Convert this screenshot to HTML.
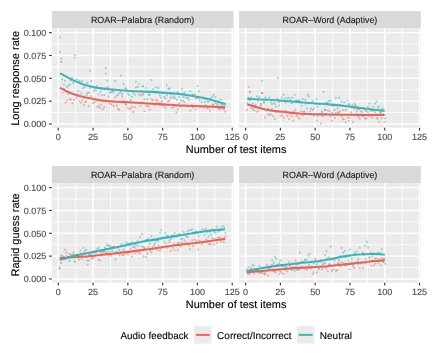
<!DOCTYPE html>
<html><head><meta charset="utf-8"><style>html,body{margin:0;padding:0;background:#fff;width:432px;height:360px;overflow:hidden}svg{display:block;will-change:transform;text-rendering:geometricPrecision;font-family:"Liberation Sans",sans-serif}</style></head>
<body><svg width="432" height="360" viewBox="0 0 432 360" font-family='"Liberation Sans", sans-serif'><defs><clipPath id="c00"><rect x="51.8" y="28.0" width="181.7" height="99.8"/></clipPath><clipPath id="c01"><rect x="239.1" y="28.0" width="181.70000000000002" height="99.8"/></clipPath><clipPath id="c10"><rect x="51.8" y="183.0" width="181.7" height="99.8"/></clipPath><clipPath id="c11"><rect x="239.1" y="183.0" width="181.70000000000002" height="99.8"/></clipPath></defs><rect width="432" height="360" fill="#FFFFFF"/><rect x="51.8" y="11.0" width="181.7" height="17.0" fill="#D9D9D9"/>
<rect x="51.8" y="28.0" width="181.7" height="99.8" fill="#EBEBEB"/>
<g clip-path="url(#c00)">
<line x1="75.69" x2="75.69" y1="28.0" y2="127.8" stroke="#FFFFFF" stroke-width="0.8"/>
<line x1="110.47" x2="110.47" y1="28.0" y2="127.8" stroke="#FFFFFF" stroke-width="0.8"/>
<line x1="145.25" x2="145.25" y1="28.0" y2="127.8" stroke="#FFFFFF" stroke-width="0.8"/>
<line x1="180.03" x2="180.03" y1="28.0" y2="127.8" stroke="#FFFFFF" stroke-width="0.8"/>
<line x1="214.81" x2="214.81" y1="28.0" y2="127.8" stroke="#FFFFFF" stroke-width="0.8"/>
<line x1="51.8" x2="233.5" y1="112.54" y2="112.54" stroke="#FFFFFF" stroke-width="0.8"/>
<line x1="51.8" x2="233.5" y1="89.71" y2="89.71" stroke="#FFFFFF" stroke-width="0.8"/>
<line x1="51.8" x2="233.5" y1="66.89" y2="66.89" stroke="#FFFFFF" stroke-width="0.8"/>
<line x1="51.8" x2="233.5" y1="44.06" y2="44.06" stroke="#FFFFFF" stroke-width="0.8"/>
<line x1="58.30" x2="58.30" y1="28.0" y2="127.8" stroke="#FFFFFF" stroke-width="1.42"/>
<line x1="93.08" x2="93.08" y1="28.0" y2="127.8" stroke="#FFFFFF" stroke-width="1.42"/>
<line x1="127.86" x2="127.86" y1="28.0" y2="127.8" stroke="#FFFFFF" stroke-width="1.42"/>
<line x1="162.64" x2="162.64" y1="28.0" y2="127.8" stroke="#FFFFFF" stroke-width="1.42"/>
<line x1="197.42" x2="197.42" y1="28.0" y2="127.8" stroke="#FFFFFF" stroke-width="1.42"/>
<line x1="232.20" x2="232.20" y1="28.0" y2="127.8" stroke="#FFFFFF" stroke-width="1.42"/>
<line x1="51.8" x2="233.5" y1="123.95" y2="123.95" stroke="#FFFFFF" stroke-width="1.42"/>
<line x1="51.8" x2="233.5" y1="101.12" y2="101.12" stroke="#FFFFFF" stroke-width="1.42"/>
<line x1="51.8" x2="233.5" y1="78.30" y2="78.30" stroke="#FFFFFF" stroke-width="1.42"/>
<line x1="51.8" x2="233.5" y1="55.48" y2="55.48" stroke="#FFFFFF" stroke-width="1.42"/>
<line x1="51.8" x2="233.5" y1="32.65" y2="32.65" stroke="#FFFFFF" stroke-width="1.42"/>
<path d="M59.90,87.80 C60.82,88.28 63.32,89.70 65.40,90.70 C67.48,91.70 70.08,92.93 72.40,93.80 C74.72,94.67 77.20,95.30 79.30,95.90 C81.40,96.50 81.73,96.70 85.00,97.40 C88.27,98.10 94.27,99.42 98.90,100.10 C103.53,100.78 108.17,101.17 112.80,101.50 C117.43,101.83 121.33,101.82 126.70,102.10 C132.07,102.38 138.48,102.78 145.00,103.20 C151.52,103.62 158.85,104.17 165.80,104.60 C172.75,105.03 180.33,105.52 186.70,105.80 C193.07,106.08 197.58,106.03 204.00,106.30 C210.42,106.57 221.67,107.22 225.20,107.40" fill="none" stroke="#E0675F" stroke-width="2.1" stroke-linecap="butt" stroke-linejoin="round"/>
<path d="M59.90,73.20 C60.82,73.68 63.32,74.98 65.40,76.10 C67.48,77.22 70.08,78.80 72.40,79.90 C74.72,81.00 77.20,81.85 79.30,82.70 C81.40,83.55 81.73,84.10 85.00,85.00 C88.27,85.90 94.27,87.33 98.90,88.10 C103.53,88.87 108.17,89.15 112.80,89.60 C117.43,90.05 121.33,90.47 126.70,90.80 C132.07,91.13 138.48,91.25 145.00,91.60 C151.52,91.95 158.85,92.33 165.80,92.90 C172.75,93.47 180.33,94.13 186.70,95.00 C193.07,95.87 197.57,96.60 204.00,98.10 C210.43,99.60 221.75,103.02 225.30,104.00" fill="none" stroke="#45B4B8" stroke-width="2.1" stroke-linecap="butt" stroke-linejoin="round"/>
<g fill="#EE6A60" fill-opacity="0.5">
<circle cx="59.8" cy="52.3" r="1.05"/>
<circle cx="61.2" cy="61.9" r="1.05"/>
<circle cx="75.0" cy="57.8" r="1.05"/>
<circle cx="105.7" cy="73.6" r="1.05"/>
<circle cx="62.6" cy="92.8" r="1.05"/>
<circle cx="68.2" cy="93.8" r="1.05"/>
<circle cx="65.4" cy="102.7" r="1.05"/>
<circle cx="66.8" cy="100.9" r="1.05"/>
<circle cx="69.7" cy="99.2" r="1.05"/>
<circle cx="71.1" cy="99.9" r="1.05"/>
<circle cx="72.5" cy="103.4" r="1.05"/>
<circle cx="73.9" cy="99.9" r="1.05"/>
<circle cx="76.7" cy="97.8" r="1.05"/>
<circle cx="79.5" cy="101.3" r="1.05"/>
<circle cx="80.9" cy="102.7" r="1.05"/>
<circle cx="82.4" cy="100.6" r="1.05"/>
<circle cx="83.8" cy="104.8" r="1.05"/>
<circle cx="85.2" cy="102.0" r="1.05"/>
<circle cx="85.9" cy="101.3" r="1.05"/>
<circle cx="88.7" cy="106.2" r="1.05"/>
<circle cx="87.3" cy="93.2" r="1.05"/>
<circle cx="90.1" cy="87.9" r="1.05"/>
<circle cx="91.5" cy="96.4" r="1.05"/>
<circle cx="93.0" cy="103.1" r="1.05"/>
<circle cx="94.4" cy="102.3" r="1.05"/>
<circle cx="97.2" cy="107.0" r="1.05"/>
<circle cx="98.6" cy="106.0" r="1.05"/>
<circle cx="100.7" cy="104.8" r="1.05"/>
<circle cx="100.0" cy="107.9" r="1.05"/>
<circle cx="102.8" cy="109.4" r="1.05"/>
<circle cx="104.3" cy="107.0" r="1.05"/>
<circle cx="106.4" cy="87.9" r="1.05"/>
<circle cx="108.5" cy="96.6" r="1.05"/>
<circle cx="111.3" cy="104.5" r="1.05"/>
<circle cx="121.0" cy="91.8" r="1.05"/>
<circle cx="115.2" cy="97.4" r="1.05"/>
<circle cx="122.2" cy="96.4" r="1.05"/>
<circle cx="135.9" cy="87.4" r="1.05"/>
<circle cx="137.6" cy="91.5" r="1.05"/>
<circle cx="139.0" cy="94.8" r="1.05"/>
<circle cx="142.5" cy="94.3" r="1.05"/>
<circle cx="123.8" cy="100.9" r="1.05"/>
<circle cx="143.4" cy="94.4" r="1.05"/>
<circle cx="151.5" cy="99.4" r="1.05"/>
<circle cx="152.9" cy="100.2" r="1.05"/>
<circle cx="157.0" cy="100.4" r="1.05"/>
<circle cx="161.3" cy="102.0" r="1.05"/>
<circle cx="166.7" cy="95.6" r="1.05"/>
<circle cx="170.6" cy="97.2" r="1.05"/>
<circle cx="168.1" cy="101.3" r="1.05"/>
<circle cx="169.5" cy="100.6" r="1.05"/>
<circle cx="113.7" cy="105.9" r="1.05"/>
<circle cx="116.8" cy="105.6" r="1.05"/>
<circle cx="117.9" cy="108.9" r="1.05"/>
<circle cx="119.4" cy="109.9" r="1.05"/>
<circle cx="127.7" cy="107.7" r="1.05"/>
<circle cx="129.3" cy="109.1" r="1.05"/>
<circle cx="130.7" cy="108.2" r="1.05"/>
<circle cx="132.1" cy="106.5" r="1.05"/>
<circle cx="134.9" cy="107.2" r="1.05"/>
<circle cx="133.3" cy="111.9" r="1.05"/>
<circle cx="144.4" cy="111.2" r="1.05"/>
<circle cx="146.2" cy="106.2" r="1.05"/>
<circle cx="148.7" cy="106.6" r="1.05"/>
<circle cx="150.0" cy="109.8" r="1.05"/>
<circle cx="154.5" cy="105.2" r="1.05"/>
<circle cx="159.9" cy="105.2" r="1.05"/>
<circle cx="163.4" cy="106.2" r="1.05"/>
<circle cx="165.6" cy="107.7" r="1.05"/>
<circle cx="172.1" cy="108.0" r="1.05"/>
<circle cx="182.7" cy="100.9" r="1.05"/>
<circle cx="184.4" cy="102.0" r="1.05"/>
<circle cx="197.6" cy="98.1" r="1.05"/>
<circle cx="198.6" cy="97.4" r="1.05"/>
<circle cx="176.4" cy="112.4" r="1.05"/>
<circle cx="177.8" cy="109.2" r="1.05"/>
<circle cx="180.2" cy="106.8" r="1.05"/>
<circle cx="190.3" cy="110.6" r="1.05"/>
<circle cx="188.6" cy="106.5" r="1.05"/>
<circle cx="192.8" cy="107.5" r="1.05"/>
<circle cx="200.0" cy="107.2" r="1.05"/>
<circle cx="175.4" cy="105.8" r="1.05"/>
<circle cx="205.7" cy="105.4" r="1.05"/>
<circle cx="208.5" cy="107.8" r="1.05"/>
<circle cx="209.9" cy="110.6" r="1.05"/>
<circle cx="215.5" cy="103.0" r="1.05"/>
<circle cx="213.7" cy="105.4" r="1.05"/>
<circle cx="220.0" cy="108.9" r="1.05"/>
<circle cx="222.4" cy="108.5" r="1.05"/>
<circle cx="224.1" cy="109.2" r="1.05"/>
<circle cx="225.2" cy="111.7" r="1.05"/>
<circle cx="204.7" cy="107.2" r="1.05"/>
<circle cx="63.9" cy="88.8" r="1.05"/>
<circle cx="77.8" cy="95.4" r="1.05"/>
<circle cx="95.9" cy="101.0" r="1.05"/>
<circle cx="101.4" cy="100.5" r="1.05"/>
<circle cx="109.8" cy="103.6" r="1.05"/>
<circle cx="112.6" cy="101.4" r="1.05"/>
<circle cx="125.1" cy="103.9" r="1.05"/>
<circle cx="126.5" cy="104.8" r="1.05"/>
<circle cx="140.4" cy="105.8" r="1.05"/>
<circle cx="141.8" cy="101.8" r="1.05"/>
<circle cx="147.3" cy="104.9" r="1.05"/>
<circle cx="155.7" cy="100.5" r="1.05"/>
<circle cx="158.5" cy="102.2" r="1.05"/>
<circle cx="162.6" cy="100.8" r="1.05"/>
<circle cx="173.8" cy="107.0" r="1.05"/>
<circle cx="179.3" cy="103.2" r="1.05"/>
<circle cx="183.5" cy="105.6" r="1.05"/>
<circle cx="186.3" cy="105.4" r="1.05"/>
<circle cx="187.7" cy="105.8" r="1.05"/>
<circle cx="191.9" cy="104.9" r="1.05"/>
<circle cx="194.6" cy="106.5" r="1.05"/>
<circle cx="196.0" cy="109.3" r="1.05"/>
<circle cx="201.6" cy="106.3" r="1.05"/>
<circle cx="203.0" cy="107.2" r="1.05"/>
<circle cx="207.2" cy="108.3" r="1.05"/>
<circle cx="211.3" cy="106.3" r="1.05"/>
<circle cx="212.7" cy="104.5" r="1.05"/>
<circle cx="216.9" cy="106.0" r="1.05"/>
<circle cx="218.3" cy="109.0" r="1.05"/>
<circle cx="221.1" cy="104.2" r="1.05"/>
</g>
<g fill="#1AAEB3" fill-opacity="0.45">
<circle cx="59.9" cy="37.2" r="1.05"/>
<circle cx="61.2" cy="58.8" r="1.05"/>
<circle cx="75.0" cy="55.1" r="1.05"/>
<circle cx="90.1" cy="70.7" r="1.05"/>
<circle cx="105.7" cy="67.8" r="1.05"/>
<circle cx="62.2" cy="79.4" r="1.05"/>
<circle cx="65.0" cy="80.8" r="1.05"/>
<circle cx="64.0" cy="84.8" r="1.05"/>
<circle cx="66.8" cy="86.8" r="1.05"/>
<circle cx="68.2" cy="85.8" r="1.05"/>
<circle cx="69.7" cy="84.4" r="1.05"/>
<circle cx="73.2" cy="82.9" r="1.05"/>
<circle cx="78.1" cy="91.0" r="1.05"/>
<circle cx="80.9" cy="93.5" r="1.05"/>
<circle cx="83.1" cy="88.2" r="1.05"/>
<circle cx="86.6" cy="95.0" r="1.05"/>
<circle cx="89.0" cy="92.8" r="1.05"/>
<circle cx="87.3" cy="82.9" r="1.05"/>
<circle cx="91.5" cy="81.1" r="1.05"/>
<circle cx="93.7" cy="90.7" r="1.05"/>
<circle cx="98.6" cy="94.2" r="1.05"/>
<circle cx="100.7" cy="91.8" r="1.05"/>
<circle cx="102.1" cy="95.2" r="1.05"/>
<circle cx="104.3" cy="95.0" r="1.05"/>
<circle cx="107.1" cy="80.5" r="1.05"/>
<circle cx="109.9" cy="92.8" r="1.05"/>
<circle cx="111.3" cy="92.1" r="1.05"/>
<circle cx="76.7" cy="79.1" r="1.05"/>
<circle cx="120.8" cy="75.7" r="1.05"/>
<circle cx="115.2" cy="80.9" r="1.05"/>
<circle cx="123.6" cy="84.1" r="1.05"/>
<circle cx="125.5" cy="88.4" r="1.05"/>
<circle cx="113.7" cy="92.2" r="1.05"/>
<circle cx="116.8" cy="95.7" r="1.05"/>
<circle cx="118.2" cy="94.7" r="1.05"/>
<circle cx="122.0" cy="94.1" r="1.05"/>
<circle cx="129.0" cy="95.2" r="1.05"/>
<circle cx="131.8" cy="96.6" r="1.05"/>
<circle cx="134.7" cy="94.7" r="1.05"/>
<circle cx="130.7" cy="100.1" r="1.05"/>
<circle cx="135.9" cy="81.8" r="1.05"/>
<circle cx="138.8" cy="84.1" r="1.05"/>
<circle cx="137.6" cy="87.0" r="1.05"/>
<circle cx="141.1" cy="95.4" r="1.05"/>
<circle cx="142.5" cy="86.3" r="1.05"/>
<circle cx="151.5" cy="80.0" r="1.05"/>
<circle cx="143.4" cy="86.2" r="1.05"/>
<circle cx="155.8" cy="87.2" r="1.05"/>
<circle cx="158.4" cy="87.9" r="1.05"/>
<circle cx="153.0" cy="89.3" r="1.05"/>
<circle cx="166.7" cy="85.2" r="1.05"/>
<circle cx="168.5" cy="88.9" r="1.05"/>
<circle cx="169.7" cy="88.4" r="1.05"/>
<circle cx="149.5" cy="94.9" r="1.05"/>
<circle cx="144.4" cy="99.4" r="1.05"/>
<circle cx="147.4" cy="99.4" r="1.05"/>
<circle cx="159.9" cy="95.6" r="1.05"/>
<circle cx="161.3" cy="97.7" r="1.05"/>
<circle cx="163.8" cy="96.8" r="1.05"/>
<circle cx="165.2" cy="98.1" r="1.05"/>
<circle cx="172.4" cy="97.7" r="1.05"/>
<circle cx="182.0" cy="88.8" r="1.05"/>
<circle cx="190.3" cy="91.1" r="1.05"/>
<circle cx="197.5" cy="86.0" r="1.05"/>
<circle cx="198.9" cy="91.2" r="1.05"/>
<circle cx="184.4" cy="92.9" r="1.05"/>
<circle cx="194.8" cy="94.5" r="1.05"/>
<circle cx="175.0" cy="98.0" r="1.05"/>
<circle cx="176.8" cy="99.9" r="1.05"/>
<circle cx="179.2" cy="97.1" r="1.05"/>
<circle cx="180.6" cy="100.4" r="1.05"/>
<circle cx="188.9" cy="99.9" r="1.05"/>
<circle cx="199.7" cy="100.6" r="1.05"/>
<circle cx="201.8" cy="102.0" r="1.05"/>
<circle cx="214.1" cy="94.5" r="1.05"/>
<circle cx="211.3" cy="97.9" r="1.05"/>
<circle cx="215.5" cy="97.1" r="1.05"/>
<circle cx="204.7" cy="101.9" r="1.05"/>
<circle cx="208.5" cy="101.9" r="1.05"/>
<circle cx="217.5" cy="104.4" r="1.05"/>
<circle cx="220.0" cy="106.7" r="1.05"/>
<circle cx="223.8" cy="106.9" r="1.05"/>
<circle cx="70.8" cy="80.2" r="1.05"/>
<circle cx="72.2" cy="78.1" r="1.05"/>
<circle cx="79.2" cy="80.8" r="1.05"/>
<circle cx="81.9" cy="81.1" r="1.05"/>
<circle cx="84.7" cy="87.2" r="1.05"/>
<circle cx="94.5" cy="88.5" r="1.05"/>
<circle cx="95.9" cy="90.1" r="1.05"/>
<circle cx="97.2" cy="86.0" r="1.05"/>
<circle cx="101.4" cy="88.4" r="1.05"/>
<circle cx="108.4" cy="87.1" r="1.05"/>
<circle cx="112.6" cy="91.0" r="1.05"/>
<circle cx="119.5" cy="93.0" r="1.05"/>
<circle cx="126.5" cy="89.2" r="1.05"/>
<circle cx="127.9" cy="93.7" r="1.05"/>
<circle cx="133.4" cy="92.9" r="1.05"/>
<circle cx="140.4" cy="91.1" r="1.05"/>
<circle cx="145.9" cy="88.1" r="1.05"/>
<circle cx="148.7" cy="94.4" r="1.05"/>
<circle cx="154.3" cy="92.0" r="1.05"/>
<circle cx="157.1" cy="91.3" r="1.05"/>
<circle cx="162.6" cy="93.4" r="1.05"/>
<circle cx="171.0" cy="94.2" r="1.05"/>
<circle cx="173.8" cy="96.4" r="1.05"/>
<circle cx="177.9" cy="92.3" r="1.05"/>
<circle cx="183.5" cy="96.7" r="1.05"/>
<circle cx="186.3" cy="97.6" r="1.05"/>
<circle cx="187.7" cy="97.8" r="1.05"/>
<circle cx="191.9" cy="95.6" r="1.05"/>
<circle cx="193.2" cy="94.8" r="1.05"/>
<circle cx="196.0" cy="98.5" r="1.05"/>
<circle cx="203.0" cy="98.1" r="1.05"/>
<circle cx="205.8" cy="98.8" r="1.05"/>
<circle cx="207.2" cy="101.5" r="1.05"/>
<circle cx="209.9" cy="99.3" r="1.05"/>
<circle cx="212.7" cy="96.4" r="1.05"/>
<circle cx="218.3" cy="101.4" r="1.05"/>
<circle cx="221.1" cy="99.5" r="1.05"/>
<circle cx="222.5" cy="104.7" r="1.05"/>
<circle cx="225.2" cy="104.6" r="1.05"/>
</g>
</g>
<text x="142.65" y="22.75" font-size="9.05" fill="#1A1A1A" text-anchor="middle" stroke="#1A1A1A" stroke-width="0.12" textLength="103.4" lengthAdjust="spacingAndGlyphs">ROAR–Palabra (Random)</text>
<line x1="58.30" x2="58.30" y1="127.8" y2="130.55" stroke="#333333" stroke-width="1.1"/>
<text x="58.30" y="140.0" font-size="9.0" fill="#4D4D4D" text-anchor="middle" stroke="#4D4D4D" stroke-width="0.12">0</text>
<line x1="93.08" x2="93.08" y1="127.8" y2="130.55" stroke="#333333" stroke-width="1.1"/>
<text x="93.08" y="140.0" font-size="9.0" fill="#4D4D4D" text-anchor="middle" stroke="#4D4D4D" stroke-width="0.12">25</text>
<line x1="127.86" x2="127.86" y1="127.8" y2="130.55" stroke="#333333" stroke-width="1.1"/>
<text x="127.86" y="140.0" font-size="9.0" fill="#4D4D4D" text-anchor="middle" stroke="#4D4D4D" stroke-width="0.12">50</text>
<line x1="162.64" x2="162.64" y1="127.8" y2="130.55" stroke="#333333" stroke-width="1.1"/>
<text x="162.64" y="140.0" font-size="9.0" fill="#4D4D4D" text-anchor="middle" stroke="#4D4D4D" stroke-width="0.12">75</text>
<line x1="197.42" x2="197.42" y1="127.8" y2="130.55" stroke="#333333" stroke-width="1.1"/>
<text x="197.42" y="140.0" font-size="9.0" fill="#4D4D4D" text-anchor="middle" stroke="#4D4D4D" stroke-width="0.12">100</text>
<line x1="232.20" x2="232.20" y1="127.8" y2="130.55" stroke="#333333" stroke-width="1.1"/>
<text x="232.20" y="140.0" font-size="9.0" fill="#4D4D4D" text-anchor="middle" stroke="#4D4D4D" stroke-width="0.12">125</text>
<rect x="239.1" y="11.0" width="181.70000000000002" height="17.0" fill="#D9D9D9"/>
<rect x="239.1" y="28.0" width="181.70000000000002" height="99.8" fill="#EBEBEB"/>
<g clip-path="url(#c01)">
<line x1="262.99" x2="262.99" y1="28.0" y2="127.8" stroke="#FFFFFF" stroke-width="0.8"/>
<line x1="297.77" x2="297.77" y1="28.0" y2="127.8" stroke="#FFFFFF" stroke-width="0.8"/>
<line x1="332.55" x2="332.55" y1="28.0" y2="127.8" stroke="#FFFFFF" stroke-width="0.8"/>
<line x1="367.33" x2="367.33" y1="28.0" y2="127.8" stroke="#FFFFFF" stroke-width="0.8"/>
<line x1="402.11" x2="402.11" y1="28.0" y2="127.8" stroke="#FFFFFF" stroke-width="0.8"/>
<line x1="239.1" x2="420.8" y1="112.54" y2="112.54" stroke="#FFFFFF" stroke-width="0.8"/>
<line x1="239.1" x2="420.8" y1="89.71" y2="89.71" stroke="#FFFFFF" stroke-width="0.8"/>
<line x1="239.1" x2="420.8" y1="66.89" y2="66.89" stroke="#FFFFFF" stroke-width="0.8"/>
<line x1="239.1" x2="420.8" y1="44.06" y2="44.06" stroke="#FFFFFF" stroke-width="0.8"/>
<line x1="245.60" x2="245.60" y1="28.0" y2="127.8" stroke="#FFFFFF" stroke-width="1.42"/>
<line x1="280.38" x2="280.38" y1="28.0" y2="127.8" stroke="#FFFFFF" stroke-width="1.42"/>
<line x1="315.16" x2="315.16" y1="28.0" y2="127.8" stroke="#FFFFFF" stroke-width="1.42"/>
<line x1="349.94" x2="349.94" y1="28.0" y2="127.8" stroke="#FFFFFF" stroke-width="1.42"/>
<line x1="384.72" x2="384.72" y1="28.0" y2="127.8" stroke="#FFFFFF" stroke-width="1.42"/>
<line x1="419.50" x2="419.50" y1="28.0" y2="127.8" stroke="#FFFFFF" stroke-width="1.42"/>
<line x1="239.1" x2="420.8" y1="123.95" y2="123.95" stroke="#FFFFFF" stroke-width="1.42"/>
<line x1="239.1" x2="420.8" y1="101.12" y2="101.12" stroke="#FFFFFF" stroke-width="1.42"/>
<line x1="239.1" x2="420.8" y1="78.30" y2="78.30" stroke="#FFFFFF" stroke-width="1.42"/>
<line x1="239.1" x2="420.8" y1="55.48" y2="55.48" stroke="#FFFFFF" stroke-width="1.42"/>
<line x1="239.1" x2="420.8" y1="32.65" y2="32.65" stroke="#FFFFFF" stroke-width="1.42"/>
<path d="M247.30,104.20 C248.82,104.72 252.78,106.28 256.40,107.30 C260.02,108.32 264.58,109.55 269.00,110.30 C273.42,111.05 277.90,111.27 282.90,111.80 C287.90,112.33 294.00,113.10 299.00,113.50 C304.00,113.90 307.90,114.03 312.90,114.20 C317.90,114.37 321.32,114.38 329.00,114.50 C336.68,114.62 349.72,114.83 359.00,114.90 C368.28,114.97 380.42,114.90 384.70,114.90" fill="none" stroke="#E0675F" stroke-width="2.1" stroke-linecap="butt" stroke-linejoin="round"/>
<path d="M247.30,98.90 C248.82,98.97 252.78,99.15 256.40,99.30 C260.02,99.45 264.58,99.57 269.00,99.80 C273.42,100.03 277.90,100.32 282.90,100.70 C287.90,101.08 294.00,101.67 299.00,102.10 C304.00,102.53 307.90,102.92 312.90,103.30 C317.90,103.68 324.00,104.00 329.00,104.40 C334.00,104.80 337.90,105.13 342.90,105.70 C347.90,106.27 354.00,107.17 359.00,107.80 C364.00,108.43 368.62,108.98 372.90,109.50 C377.18,110.02 382.73,110.67 384.70,110.90" fill="none" stroke="#45B4B8" stroke-width="2.1" stroke-linecap="butt" stroke-linejoin="round"/>
<g fill="#EE6A60" fill-opacity="0.5">
<circle cx="248.6" cy="87.0" r="1.05"/>
<circle cx="250.0" cy="91.7" r="1.05"/>
<circle cx="262.3" cy="93.1" r="1.05"/>
<circle cx="249.8" cy="92.3" r="1.05"/>
<circle cx="262.3" cy="93.0" r="1.05"/>
<circle cx="264.0" cy="102.4" r="1.05"/>
<circle cx="247.0" cy="109.9" r="1.05"/>
<circle cx="252.9" cy="108.5" r="1.05"/>
<circle cx="256.4" cy="111.8" r="1.05"/>
<circle cx="259.8" cy="106.9" r="1.05"/>
<circle cx="267.8" cy="114.6" r="1.05"/>
<circle cx="265.0" cy="117.6" r="1.05"/>
<circle cx="277.3" cy="98.9" r="1.05"/>
<circle cx="279.1" cy="105.5" r="1.05"/>
<circle cx="285.7" cy="111.1" r="1.05"/>
<circle cx="295.4" cy="110.1" r="1.05"/>
<circle cx="294.0" cy="111.8" r="1.05"/>
<circle cx="271.1" cy="114.5" r="1.05"/>
<circle cx="273.2" cy="116.2" r="1.05"/>
<circle cx="274.9" cy="119.0" r="1.05"/>
<circle cx="280.5" cy="116.2" r="1.05"/>
<circle cx="283.9" cy="117.6" r="1.05"/>
<circle cx="287.4" cy="115.9" r="1.05"/>
<circle cx="289.1" cy="119.0" r="1.05"/>
<circle cx="291.6" cy="116.2" r="1.05"/>
<circle cx="293.0" cy="120.8" r="1.05"/>
<circle cx="296.8" cy="115.9" r="1.05"/>
<circle cx="298.2" cy="117.6" r="1.05"/>
<circle cx="308.0" cy="94.6" r="1.05"/>
<circle cx="305.6" cy="104.0" r="1.05"/>
<circle cx="301.4" cy="111.3" r="1.05"/>
<circle cx="310.1" cy="111.3" r="1.05"/>
<circle cx="312.5" cy="109.9" r="1.05"/>
<circle cx="325.0" cy="109.9" r="1.05"/>
<circle cx="327.8" cy="110.2" r="1.05"/>
<circle cx="299.7" cy="118.8" r="1.05"/>
<circle cx="316.7" cy="120.8" r="1.05"/>
<circle cx="320.9" cy="123.6" r="1.05"/>
<circle cx="317.8" cy="116.3" r="1.05"/>
<circle cx="323.0" cy="116.3" r="1.05"/>
<circle cx="337.3" cy="108.5" r="1.05"/>
<circle cx="355.4" cy="105.4" r="1.05"/>
<circle cx="354.0" cy="108.5" r="1.05"/>
<circle cx="340.1" cy="111.6" r="1.05"/>
<circle cx="351.2" cy="112.3" r="1.05"/>
<circle cx="356.8" cy="111.6" r="1.05"/>
<circle cx="329.4" cy="111.3" r="1.05"/>
<circle cx="334.9" cy="117.7" r="1.05"/>
<circle cx="331.8" cy="120.8" r="1.05"/>
<circle cx="341.9" cy="116.7" r="1.05"/>
<circle cx="343.9" cy="119.1" r="1.05"/>
<circle cx="345.7" cy="122.2" r="1.05"/>
<circle cx="347.4" cy="117.7" r="1.05"/>
<circle cx="348.8" cy="120.8" r="1.05"/>
<circle cx="349.8" cy="117.7" r="1.05"/>
<circle cx="353.0" cy="122.2" r="1.05"/>
<circle cx="373.6" cy="106.8" r="1.05"/>
<circle cx="383.6" cy="108.5" r="1.05"/>
<circle cx="361.1" cy="111.3" r="1.05"/>
<circle cx="368.0" cy="112.3" r="1.05"/>
<circle cx="375.0" cy="112.3" r="1.05"/>
<circle cx="380.5" cy="112.7" r="1.05"/>
<circle cx="359.7" cy="118.8" r="1.05"/>
<circle cx="362.5" cy="116.3" r="1.05"/>
<circle cx="366.6" cy="118.4" r="1.05"/>
<circle cx="376.7" cy="118.4" r="1.05"/>
<circle cx="377.8" cy="118.4" r="1.05"/>
<circle cx="381.6" cy="118.4" r="1.05"/>
<circle cx="379.1" cy="121.9" r="1.05"/>
<circle cx="384.7" cy="121.9" r="1.05"/>
<circle cx="251.2" cy="107.9" r="1.05"/>
<circle cx="253.9" cy="105.9" r="1.05"/>
<circle cx="255.3" cy="106.1" r="1.05"/>
<circle cx="258.1" cy="111.2" r="1.05"/>
<circle cx="260.9" cy="105.2" r="1.05"/>
<circle cx="266.5" cy="110.5" r="1.05"/>
<circle cx="269.2" cy="114.7" r="1.05"/>
<circle cx="272.0" cy="109.0" r="1.05"/>
<circle cx="276.2" cy="112.3" r="1.05"/>
<circle cx="281.8" cy="115.1" r="1.05"/>
<circle cx="283.2" cy="111.6" r="1.05"/>
<circle cx="290.1" cy="113.6" r="1.05"/>
<circle cx="302.6" cy="115.3" r="1.05"/>
<circle cx="304.0" cy="112.1" r="1.05"/>
<circle cx="306.8" cy="113.7" r="1.05"/>
<circle cx="311.0" cy="114.6" r="1.05"/>
<circle cx="313.8" cy="115.7" r="1.05"/>
<circle cx="315.2" cy="114.2" r="1.05"/>
<circle cx="319.3" cy="114.0" r="1.05"/>
<circle cx="322.1" cy="112.5" r="1.05"/>
<circle cx="326.3" cy="113.8" r="1.05"/>
<circle cx="330.5" cy="116.1" r="1.05"/>
<circle cx="333.2" cy="114.7" r="1.05"/>
<circle cx="336.0" cy="113.1" r="1.05"/>
<circle cx="338.8" cy="113.1" r="1.05"/>
<circle cx="343.0" cy="119.5" r="1.05"/>
<circle cx="358.3" cy="116.9" r="1.05"/>
<circle cx="363.9" cy="116.0" r="1.05"/>
<circle cx="365.2" cy="110.2" r="1.05"/>
<circle cx="369.4" cy="116.0" r="1.05"/>
<circle cx="370.8" cy="115.8" r="1.05"/>
<circle cx="372.2" cy="117.9" r="1.05"/>
</g>
<g fill="#1AAEB3" fill-opacity="0.45">
<circle cx="262.3" cy="80.8" r="1.05"/>
<circle cx="277.8" cy="78.0" r="1.05"/>
<circle cx="257.1" cy="96.2" r="1.05"/>
<circle cx="259.1" cy="97.2" r="1.05"/>
<circle cx="251.2" cy="97.6" r="1.05"/>
<circle cx="265.4" cy="97.6" r="1.05"/>
<circle cx="247.3" cy="102.8" r="1.05"/>
<circle cx="252.9" cy="103.8" r="1.05"/>
<circle cx="255.7" cy="105.2" r="1.05"/>
<circle cx="261.2" cy="103.8" r="1.05"/>
<circle cx="253.9" cy="110.2" r="1.05"/>
<circle cx="268.2" cy="108.7" r="1.05"/>
<circle cx="264.0" cy="102.4" r="1.05"/>
<circle cx="269.4" cy="97.6" r="1.05"/>
<circle cx="271.1" cy="102.4" r="1.05"/>
<circle cx="273.9" cy="102.8" r="1.05"/>
<circle cx="272.1" cy="104.2" r="1.05"/>
<circle cx="275.2" cy="104.2" r="1.05"/>
<circle cx="276.3" cy="106.9" r="1.05"/>
<circle cx="281.5" cy="97.6" r="1.05"/>
<circle cx="283.6" cy="94.8" r="1.05"/>
<circle cx="285.7" cy="102.4" r="1.05"/>
<circle cx="289.1" cy="97.9" r="1.05"/>
<circle cx="292.3" cy="97.9" r="1.05"/>
<circle cx="294.7" cy="94.8" r="1.05"/>
<circle cx="323.6" cy="91.8" r="1.05"/>
<circle cx="308.7" cy="96.3" r="1.05"/>
<circle cx="302.8" cy="99.1" r="1.05"/>
<circle cx="299.7" cy="100.5" r="1.05"/>
<circle cx="301.4" cy="105.7" r="1.05"/>
<circle cx="317.8" cy="106.8" r="1.05"/>
<circle cx="307.0" cy="108.5" r="1.05"/>
<circle cx="311.1" cy="108.5" r="1.05"/>
<circle cx="313.9" cy="108.5" r="1.05"/>
<circle cx="321.9" cy="111.6" r="1.05"/>
<circle cx="327.5" cy="102.2" r="1.05"/>
<circle cx="304.2" cy="111.6" r="1.05"/>
<circle cx="325.0" cy="109.9" r="1.05"/>
<circle cx="320.9" cy="114.6" r="1.05"/>
<circle cx="335.9" cy="97.9" r="1.05"/>
<circle cx="339.1" cy="97.9" r="1.05"/>
<circle cx="330.7" cy="100.8" r="1.05"/>
<circle cx="344.3" cy="102.4" r="1.05"/>
<circle cx="347.4" cy="100.8" r="1.05"/>
<circle cx="349.8" cy="104.1" r="1.05"/>
<circle cx="352.6" cy="105.2" r="1.05"/>
<circle cx="354.4" cy="103.8" r="1.05"/>
<circle cx="334.6" cy="110.1" r="1.05"/>
<circle cx="342.9" cy="110.1" r="1.05"/>
<circle cx="345.7" cy="110.1" r="1.05"/>
<circle cx="332.1" cy="112.7" r="1.05"/>
<circle cx="338.0" cy="112.3" r="1.05"/>
<circle cx="369.4" cy="103.6" r="1.05"/>
<circle cx="375.0" cy="103.6" r="1.05"/>
<circle cx="376.7" cy="101.5" r="1.05"/>
<circle cx="377.8" cy="107.4" r="1.05"/>
<circle cx="368.0" cy="106.8" r="1.05"/>
<circle cx="370.8" cy="110.6" r="1.05"/>
<circle cx="381.9" cy="108.8" r="1.05"/>
<circle cx="361.8" cy="112.0" r="1.05"/>
<circle cx="365.2" cy="118.4" r="1.05"/>
<circle cx="385.0" cy="118.4" r="1.05"/>
<circle cx="361.1" cy="114.9" r="1.05"/>
<circle cx="383.3" cy="114.9" r="1.05"/>
<circle cx="248.4" cy="97.9" r="1.05"/>
<circle cx="249.8" cy="100.8" r="1.05"/>
<circle cx="258.1" cy="100.8" r="1.05"/>
<circle cx="266.5" cy="99.7" r="1.05"/>
<circle cx="279.0" cy="101.9" r="1.05"/>
<circle cx="280.4" cy="100.8" r="1.05"/>
<circle cx="284.6" cy="98.7" r="1.05"/>
<circle cx="287.3" cy="98.3" r="1.05"/>
<circle cx="290.1" cy="100.2" r="1.05"/>
<circle cx="291.5" cy="103.1" r="1.05"/>
<circle cx="295.7" cy="100.8" r="1.05"/>
<circle cx="297.1" cy="100.3" r="1.05"/>
<circle cx="298.5" cy="100.7" r="1.05"/>
<circle cx="305.4" cy="99.9" r="1.05"/>
<circle cx="309.6" cy="102.8" r="1.05"/>
<circle cx="312.4" cy="101.1" r="1.05"/>
<circle cx="315.2" cy="104.1" r="1.05"/>
<circle cx="316.6" cy="99.3" r="1.05"/>
<circle cx="319.3" cy="104.3" r="1.05"/>
<circle cx="326.3" cy="103.1" r="1.05"/>
<circle cx="329.1" cy="100.9" r="1.05"/>
<circle cx="333.2" cy="106.1" r="1.05"/>
<circle cx="340.2" cy="105.0" r="1.05"/>
<circle cx="341.6" cy="101.6" r="1.05"/>
<circle cx="348.6" cy="104.9" r="1.05"/>
<circle cx="351.3" cy="107.3" r="1.05"/>
<circle cx="355.5" cy="106.5" r="1.05"/>
<circle cx="356.9" cy="108.9" r="1.05"/>
<circle cx="358.3" cy="109.0" r="1.05"/>
<circle cx="359.7" cy="109.1" r="1.05"/>
<circle cx="363.9" cy="109.0" r="1.05"/>
<circle cx="366.6" cy="111.1" r="1.05"/>
<circle cx="372.2" cy="110.6" r="1.05"/>
<circle cx="373.6" cy="110.4" r="1.05"/>
<circle cx="379.2" cy="106.5" r="1.05"/>
<circle cx="380.5" cy="112.0" r="1.05"/>
</g>
</g>
<text x="329.95" y="22.75" font-size="9.05" fill="#1A1A1A" text-anchor="middle" stroke="#1A1A1A" stroke-width="0.12" textLength="94.8" lengthAdjust="spacingAndGlyphs">ROAR–Word (Adaptive)</text>
<line x1="245.60" x2="245.60" y1="127.8" y2="130.55" stroke="#333333" stroke-width="1.1"/>
<text x="245.60" y="140.0" font-size="9.0" fill="#4D4D4D" text-anchor="middle" stroke="#4D4D4D" stroke-width="0.12">0</text>
<line x1="280.38" x2="280.38" y1="127.8" y2="130.55" stroke="#333333" stroke-width="1.1"/>
<text x="280.38" y="140.0" font-size="9.0" fill="#4D4D4D" text-anchor="middle" stroke="#4D4D4D" stroke-width="0.12">25</text>
<line x1="315.16" x2="315.16" y1="127.8" y2="130.55" stroke="#333333" stroke-width="1.1"/>
<text x="315.16" y="140.0" font-size="9.0" fill="#4D4D4D" text-anchor="middle" stroke="#4D4D4D" stroke-width="0.12">50</text>
<line x1="349.94" x2="349.94" y1="127.8" y2="130.55" stroke="#333333" stroke-width="1.1"/>
<text x="349.94" y="140.0" font-size="9.0" fill="#4D4D4D" text-anchor="middle" stroke="#4D4D4D" stroke-width="0.12">75</text>
<line x1="384.72" x2="384.72" y1="127.8" y2="130.55" stroke="#333333" stroke-width="1.1"/>
<text x="384.72" y="140.0" font-size="9.0" fill="#4D4D4D" text-anchor="middle" stroke="#4D4D4D" stroke-width="0.12">100</text>
<line x1="419.50" x2="419.50" y1="127.8" y2="130.55" stroke="#333333" stroke-width="1.1"/>
<text x="419.50" y="140.0" font-size="9.0" fill="#4D4D4D" text-anchor="middle" stroke="#4D4D4D" stroke-width="0.12">125</text>
<line x1="49.05" x2="51.8" y1="123.95" y2="123.95" stroke="#333333" stroke-width="1.1"/>
<text x="46.2" y="127.15" font-size="9.0" fill="#4D4D4D" text-anchor="end" stroke="#4D4D4D" stroke-width="0.12">0.000</text>
<line x1="49.05" x2="51.8" y1="101.12" y2="101.12" stroke="#333333" stroke-width="1.1"/>
<text x="46.2" y="104.33" font-size="9.0" fill="#4D4D4D" text-anchor="end" stroke="#4D4D4D" stroke-width="0.12">0.025</text>
<line x1="49.05" x2="51.8" y1="78.30" y2="78.30" stroke="#333333" stroke-width="1.1"/>
<text x="46.2" y="81.50" font-size="9.0" fill="#4D4D4D" text-anchor="end" stroke="#4D4D4D" stroke-width="0.12">0.050</text>
<line x1="49.05" x2="51.8" y1="55.48" y2="55.48" stroke="#333333" stroke-width="1.1"/>
<text x="46.2" y="58.68" font-size="9.0" fill="#4D4D4D" text-anchor="end" stroke="#4D4D4D" stroke-width="0.12">0.075</text>
<line x1="49.05" x2="51.8" y1="32.65" y2="32.65" stroke="#333333" stroke-width="1.1"/>
<text x="46.2" y="35.85" font-size="9.0" fill="#4D4D4D" text-anchor="end" stroke="#4D4D4D" stroke-width="0.12">0.100</text>
<text x="236.1" y="152.6" font-size="10.9" fill="#000000" text-anchor="middle" stroke="#000" stroke-width="0.12">Number of test items</text>
<text x="0" y="0" font-size="11" fill="#000000" text-anchor="middle" stroke="#000" stroke-width="0.12" transform="translate(18.6,78.4) rotate(-90)">Long response rate</text>
<rect x="51.8" y="166.0" width="181.7" height="17.0" fill="#D9D9D9"/>
<rect x="51.8" y="183.0" width="181.7" height="99.8" fill="#EBEBEB"/>
<g clip-path="url(#c10)">
<line x1="75.69" x2="75.69" y1="183.0" y2="282.8" stroke="#FFFFFF" stroke-width="0.8"/>
<line x1="110.47" x2="110.47" y1="183.0" y2="282.8" stroke="#FFFFFF" stroke-width="0.8"/>
<line x1="145.25" x2="145.25" y1="183.0" y2="282.8" stroke="#FFFFFF" stroke-width="0.8"/>
<line x1="180.03" x2="180.03" y1="183.0" y2="282.8" stroke="#FFFFFF" stroke-width="0.8"/>
<line x1="214.81" x2="214.81" y1="183.0" y2="282.8" stroke="#FFFFFF" stroke-width="0.8"/>
<line x1="51.8" x2="233.5" y1="267.54" y2="267.54" stroke="#FFFFFF" stroke-width="0.8"/>
<line x1="51.8" x2="233.5" y1="244.71" y2="244.71" stroke="#FFFFFF" stroke-width="0.8"/>
<line x1="51.8" x2="233.5" y1="221.89" y2="221.89" stroke="#FFFFFF" stroke-width="0.8"/>
<line x1="51.8" x2="233.5" y1="199.06" y2="199.06" stroke="#FFFFFF" stroke-width="0.8"/>
<line x1="58.30" x2="58.30" y1="183.0" y2="282.8" stroke="#FFFFFF" stroke-width="1.42"/>
<line x1="93.08" x2="93.08" y1="183.0" y2="282.8" stroke="#FFFFFF" stroke-width="1.42"/>
<line x1="127.86" x2="127.86" y1="183.0" y2="282.8" stroke="#FFFFFF" stroke-width="1.42"/>
<line x1="162.64" x2="162.64" y1="183.0" y2="282.8" stroke="#FFFFFF" stroke-width="1.42"/>
<line x1="197.42" x2="197.42" y1="183.0" y2="282.8" stroke="#FFFFFF" stroke-width="1.42"/>
<line x1="232.20" x2="232.20" y1="183.0" y2="282.8" stroke="#FFFFFF" stroke-width="1.42"/>
<line x1="51.8" x2="233.5" y1="278.95" y2="278.95" stroke="#FFFFFF" stroke-width="1.42"/>
<line x1="51.8" x2="233.5" y1="256.12" y2="256.12" stroke="#FFFFFF" stroke-width="1.42"/>
<line x1="51.8" x2="233.5" y1="233.30" y2="233.30" stroke="#FFFFFF" stroke-width="1.42"/>
<line x1="51.8" x2="233.5" y1="210.47" y2="210.47" stroke="#FFFFFF" stroke-width="1.42"/>
<line x1="51.8" x2="233.5" y1="187.65" y2="187.65" stroke="#FFFFFF" stroke-width="1.42"/>
<path d="M59.60,258.00 C63.33,257.80 73.27,257.52 82.00,256.80 C90.73,256.08 102.00,254.82 112.00,253.70 C122.00,252.58 132.00,251.42 142.00,250.10 C152.00,248.78 162.00,247.12 172.00,245.80 C182.00,244.48 193.12,243.35 202.00,242.20 C210.88,241.05 221.42,239.45 225.30,238.90" fill="none" stroke="#E0675F" stroke-width="2.1" stroke-linecap="butt" stroke-linejoin="round"/>
<path d="M59.60,259.80 C63.33,258.87 73.27,256.15 82.00,254.20 C90.73,252.25 102.00,250.17 112.00,248.10 C122.00,246.03 132.00,243.72 142.00,241.80 C152.00,239.88 162.00,238.28 172.00,236.60 C182.00,234.92 193.18,232.93 202.00,231.70 C210.82,230.47 221.08,229.62 224.90,229.20" fill="none" stroke="#45B4B8" stroke-width="2.1" stroke-linecap="butt" stroke-linejoin="round"/>
<g fill="#EE6A60" fill-opacity="0.5">
<circle cx="65.1" cy="249.9" r="1.05"/>
<circle cx="73.5" cy="252.5" r="1.05"/>
<circle cx="66.6" cy="255.8" r="1.05"/>
<circle cx="69.4" cy="254.0" r="1.05"/>
<circle cx="70.8" cy="254.7" r="1.05"/>
<circle cx="79.1" cy="259.6" r="1.05"/>
<circle cx="74.9" cy="261.3" r="1.05"/>
<circle cx="59.6" cy="268.6" r="1.05"/>
<circle cx="80.5" cy="253.3" r="1.05"/>
<circle cx="104.2" cy="250.4" r="1.05"/>
<circle cx="93.1" cy="258.4" r="1.05"/>
<circle cx="98.7" cy="259.8" r="1.05"/>
<circle cx="100.1" cy="260.5" r="1.05"/>
<circle cx="88.9" cy="260.5" r="1.05"/>
<circle cx="87.6" cy="264.6" r="1.05"/>
<circle cx="90.3" cy="254.6" r="1.05"/>
<circle cx="102.5" cy="252.8" r="1.05"/>
<circle cx="109.8" cy="251.8" r="1.05"/>
<circle cx="114.1" cy="247.5" r="1.05"/>
<circle cx="133.5" cy="246.8" r="1.05"/>
<circle cx="135.6" cy="247.8" r="1.05"/>
<circle cx="112.3" cy="251.0" r="1.05"/>
<circle cx="119.3" cy="255.1" r="1.05"/>
<circle cx="122.4" cy="255.1" r="1.05"/>
<circle cx="128.0" cy="254.8" r="1.05"/>
<circle cx="132.1" cy="256.5" r="1.05"/>
<circle cx="140.1" cy="253.8" r="1.05"/>
<circle cx="115.5" cy="259.6" r="1.05"/>
<circle cx="148.6" cy="246.7" r="1.05"/>
<circle cx="147.2" cy="253.6" r="1.05"/>
<circle cx="151.4" cy="252.2" r="1.05"/>
<circle cx="165.6" cy="243.2" r="1.05"/>
<circle cx="169.4" cy="242.2" r="1.05"/>
<circle cx="170.8" cy="250.8" r="1.05"/>
<circle cx="152.8" cy="246.7" r="1.05"/>
<circle cx="187.6" cy="236.9" r="1.05"/>
<circle cx="184.5" cy="240.4" r="1.05"/>
<circle cx="179.6" cy="242.5" r="1.05"/>
<circle cx="182.1" cy="242.5" r="1.05"/>
<circle cx="192.1" cy="240.4" r="1.05"/>
<circle cx="194.6" cy="239.7" r="1.05"/>
<circle cx="199.8" cy="240.8" r="1.05"/>
<circle cx="143.4" cy="256.4" r="1.05"/>
<circle cx="145.9" cy="257.0" r="1.05"/>
<circle cx="174.6" cy="250.1" r="1.05"/>
<circle cx="178.1" cy="249.8" r="1.05"/>
<circle cx="189.9" cy="249.1" r="1.05"/>
<circle cx="198.2" cy="249.5" r="1.05"/>
<circle cx="206.2" cy="239.3" r="1.05"/>
<circle cx="212.4" cy="238.3" r="1.05"/>
<circle cx="219.7" cy="237.2" r="1.05"/>
<circle cx="222.1" cy="238.3" r="1.05"/>
<circle cx="215.5" cy="238.6" r="1.05"/>
<circle cx="223.9" cy="242.1" r="1.05"/>
<circle cx="208.6" cy="244.2" r="1.05"/>
<circle cx="211.0" cy="244.2" r="1.05"/>
<circle cx="214.1" cy="244.5" r="1.05"/>
<circle cx="216.9" cy="243.1" r="1.05"/>
<circle cx="202.0" cy="244.2" r="1.05"/>
<circle cx="61.1" cy="255.6" r="1.05"/>
<circle cx="62.5" cy="258.9" r="1.05"/>
<circle cx="63.9" cy="256.7" r="1.05"/>
<circle cx="68.0" cy="256.7" r="1.05"/>
<circle cx="72.2" cy="255.1" r="1.05"/>
<circle cx="76.4" cy="255.4" r="1.05"/>
<circle cx="77.8" cy="256.1" r="1.05"/>
<circle cx="81.9" cy="259.1" r="1.05"/>
<circle cx="83.3" cy="253.0" r="1.05"/>
<circle cx="84.7" cy="253.9" r="1.05"/>
<circle cx="86.1" cy="256.8" r="1.05"/>
<circle cx="91.7" cy="258.4" r="1.05"/>
<circle cx="94.5" cy="256.6" r="1.05"/>
<circle cx="95.9" cy="251.9" r="1.05"/>
<circle cx="97.2" cy="250.7" r="1.05"/>
<circle cx="101.4" cy="255.4" r="1.05"/>
<circle cx="105.6" cy="253.0" r="1.05"/>
<circle cx="107.0" cy="252.2" r="1.05"/>
<circle cx="108.4" cy="255.8" r="1.05"/>
<circle cx="111.2" cy="255.8" r="1.05"/>
<circle cx="116.7" cy="253.4" r="1.05"/>
<circle cx="118.1" cy="253.4" r="1.05"/>
<circle cx="120.9" cy="253.4" r="1.05"/>
<circle cx="123.7" cy="255.2" r="1.05"/>
<circle cx="125.1" cy="253.2" r="1.05"/>
<circle cx="126.5" cy="252.9" r="1.05"/>
<circle cx="129.2" cy="252.6" r="1.05"/>
<circle cx="130.6" cy="248.6" r="1.05"/>
<circle cx="134.8" cy="253.3" r="1.05"/>
<circle cx="137.6" cy="252.3" r="1.05"/>
<circle cx="139.0" cy="251.4" r="1.05"/>
<circle cx="141.8" cy="246.6" r="1.05"/>
<circle cx="144.6" cy="248.6" r="1.05"/>
<circle cx="150.1" cy="250.4" r="1.05"/>
<circle cx="154.3" cy="245.1" r="1.05"/>
<circle cx="155.7" cy="247.8" r="1.05"/>
<circle cx="157.1" cy="249.8" r="1.05"/>
<circle cx="158.5" cy="245.4" r="1.05"/>
<circle cx="159.9" cy="250.4" r="1.05"/>
<circle cx="161.2" cy="248.3" r="1.05"/>
<circle cx="162.6" cy="246.9" r="1.05"/>
<circle cx="164.0" cy="247.5" r="1.05"/>
<circle cx="166.8" cy="247.7" r="1.05"/>
<circle cx="168.2" cy="246.6" r="1.05"/>
<circle cx="172.4" cy="247.8" r="1.05"/>
<circle cx="173.8" cy="244.4" r="1.05"/>
<circle cx="176.6" cy="244.5" r="1.05"/>
<circle cx="180.7" cy="246.6" r="1.05"/>
<circle cx="183.5" cy="244.5" r="1.05"/>
<circle cx="186.3" cy="242.5" r="1.05"/>
<circle cx="189.1" cy="245.4" r="1.05"/>
<circle cx="193.2" cy="245.9" r="1.05"/>
<circle cx="196.0" cy="242.1" r="1.05"/>
<circle cx="197.4" cy="240.3" r="1.05"/>
<circle cx="203.0" cy="241.8" r="1.05"/>
<circle cx="204.4" cy="241.6" r="1.05"/>
<circle cx="207.2" cy="240.9" r="1.05"/>
<circle cx="209.9" cy="243.6" r="1.05"/>
<circle cx="218.3" cy="238.0" r="1.05"/>
<circle cx="221.1" cy="241.8" r="1.05"/>
<circle cx="225.2" cy="236.6" r="1.05"/>
</g>
<g fill="#1AAEB3" fill-opacity="0.45">
<circle cx="62.4" cy="256.1" r="1.05"/>
<circle cx="66.6" cy="252.8" r="1.05"/>
<circle cx="61.0" cy="262.9" r="1.05"/>
<circle cx="69.4" cy="260.8" r="1.05"/>
<circle cx="74.9" cy="262.0" r="1.05"/>
<circle cx="59.6" cy="267.6" r="1.05"/>
<circle cx="75.6" cy="255.1" r="1.05"/>
<circle cx="80.5" cy="250.2" r="1.05"/>
<circle cx="72.8" cy="255.4" r="1.05"/>
<circle cx="77.0" cy="254.7" r="1.05"/>
<circle cx="83.4" cy="248.0" r="1.05"/>
<circle cx="86.2" cy="249.7" r="1.05"/>
<circle cx="84.8" cy="251.1" r="1.05"/>
<circle cx="97.3" cy="248.7" r="1.05"/>
<circle cx="107.0" cy="244.9" r="1.05"/>
<circle cx="104.2" cy="251.5" r="1.05"/>
<circle cx="95.9" cy="252.8" r="1.05"/>
<circle cx="87.2" cy="260.5" r="1.05"/>
<circle cx="90.7" cy="255.6" r="1.05"/>
<circle cx="104.9" cy="247.6" r="1.05"/>
<circle cx="114.1" cy="246.5" r="1.05"/>
<circle cx="121.7" cy="244.0" r="1.05"/>
<circle cx="126.2" cy="242.3" r="1.05"/>
<circle cx="119.3" cy="249.9" r="1.05"/>
<circle cx="123.8" cy="249.6" r="1.05"/>
<circle cx="116.5" cy="251.7" r="1.05"/>
<circle cx="115.1" cy="253.8" r="1.05"/>
<circle cx="140.1" cy="237.1" r="1.05"/>
<circle cx="138.4" cy="245.8" r="1.05"/>
<circle cx="142.3" cy="233.8" r="1.05"/>
<circle cx="151.4" cy="236.4" r="1.05"/>
<circle cx="148.6" cy="238.7" r="1.05"/>
<circle cx="150.0" cy="243.9" r="1.05"/>
<circle cx="154.8" cy="243.5" r="1.05"/>
<circle cx="160.1" cy="232.8" r="1.05"/>
<circle cx="161.1" cy="230.3" r="1.05"/>
<circle cx="165.3" cy="233.1" r="1.05"/>
<circle cx="163.9" cy="241.5" r="1.05"/>
<circle cx="169.4" cy="240.4" r="1.05"/>
<circle cx="143.4" cy="246.7" r="1.05"/>
<circle cx="144.4" cy="248.1" r="1.05"/>
<circle cx="158.3" cy="241.1" r="1.05"/>
<circle cx="174.8" cy="233.1" r="1.05"/>
<circle cx="178.9" cy="233.8" r="1.05"/>
<circle cx="187.6" cy="231.7" r="1.05"/>
<circle cx="190.8" cy="230.0" r="1.05"/>
<circle cx="192.1" cy="229.3" r="1.05"/>
<circle cx="181.0" cy="239.0" r="1.05"/>
<circle cx="182.4" cy="238.7" r="1.05"/>
<circle cx="177.9" cy="243.2" r="1.05"/>
<circle cx="198.4" cy="236.2" r="1.05"/>
<circle cx="201.2" cy="232.4" r="1.05"/>
<circle cx="202.7" cy="229.2" r="1.05"/>
<circle cx="212.4" cy="229.6" r="1.05"/>
<circle cx="216.6" cy="226.8" r="1.05"/>
<circle cx="222.5" cy="226.1" r="1.05"/>
<circle cx="224.2" cy="227.2" r="1.05"/>
<circle cx="204.8" cy="234.8" r="1.05"/>
<circle cx="208.6" cy="236.5" r="1.05"/>
<circle cx="211.0" cy="234.4" r="1.05"/>
<circle cx="218.3" cy="231.7" r="1.05"/>
<circle cx="225.3" cy="233.1" r="1.05"/>
<circle cx="63.9" cy="258.3" r="1.05"/>
<circle cx="65.3" cy="259.3" r="1.05"/>
<circle cx="68.0" cy="257.3" r="1.05"/>
<circle cx="70.8" cy="256.4" r="1.05"/>
<circle cx="73.6" cy="254.6" r="1.05"/>
<circle cx="77.8" cy="254.9" r="1.05"/>
<circle cx="79.2" cy="256.9" r="1.05"/>
<circle cx="81.9" cy="255.0" r="1.05"/>
<circle cx="88.9" cy="254.7" r="1.05"/>
<circle cx="91.7" cy="252.7" r="1.05"/>
<circle cx="93.1" cy="252.7" r="1.05"/>
<circle cx="94.5" cy="252.0" r="1.05"/>
<circle cx="98.6" cy="247.8" r="1.05"/>
<circle cx="100.0" cy="252.1" r="1.05"/>
<circle cx="101.4" cy="251.2" r="1.05"/>
<circle cx="102.8" cy="250.9" r="1.05"/>
<circle cx="108.4" cy="245.8" r="1.05"/>
<circle cx="109.8" cy="245.4" r="1.05"/>
<circle cx="111.2" cy="246.7" r="1.05"/>
<circle cx="112.6" cy="247.1" r="1.05"/>
<circle cx="118.1" cy="247.4" r="1.05"/>
<circle cx="120.9" cy="246.2" r="1.05"/>
<circle cx="125.1" cy="246.3" r="1.05"/>
<circle cx="127.9" cy="243.6" r="1.05"/>
<circle cx="129.2" cy="245.0" r="1.05"/>
<circle cx="130.6" cy="244.9" r="1.05"/>
<circle cx="132.0" cy="242.7" r="1.05"/>
<circle cx="133.4" cy="246.7" r="1.05"/>
<circle cx="134.8" cy="244.3" r="1.05"/>
<circle cx="136.2" cy="245.2" r="1.05"/>
<circle cx="137.6" cy="241.6" r="1.05"/>
<circle cx="145.9" cy="239.8" r="1.05"/>
<circle cx="147.3" cy="240.3" r="1.05"/>
<circle cx="152.9" cy="239.7" r="1.05"/>
<circle cx="155.7" cy="240.6" r="1.05"/>
<circle cx="157.1" cy="239.6" r="1.05"/>
<circle cx="162.6" cy="237.4" r="1.05"/>
<circle cx="166.8" cy="235.8" r="1.05"/>
<circle cx="168.2" cy="236.3" r="1.05"/>
<circle cx="171.0" cy="239.0" r="1.05"/>
<circle cx="172.4" cy="235.1" r="1.05"/>
<circle cx="173.8" cy="236.8" r="1.05"/>
<circle cx="176.6" cy="236.6" r="1.05"/>
<circle cx="183.5" cy="232.0" r="1.05"/>
<circle cx="184.9" cy="234.6" r="1.05"/>
<circle cx="186.3" cy="236.6" r="1.05"/>
<circle cx="189.1" cy="230.2" r="1.05"/>
<circle cx="193.2" cy="232.6" r="1.05"/>
<circle cx="194.6" cy="232.7" r="1.05"/>
<circle cx="196.0" cy="231.2" r="1.05"/>
<circle cx="197.4" cy="233.3" r="1.05"/>
<circle cx="200.2" cy="231.9" r="1.05"/>
<circle cx="205.8" cy="228.7" r="1.05"/>
<circle cx="207.2" cy="232.6" r="1.05"/>
<circle cx="209.9" cy="232.0" r="1.05"/>
<circle cx="214.1" cy="232.1" r="1.05"/>
<circle cx="215.5" cy="232.8" r="1.05"/>
<circle cx="219.7" cy="230.4" r="1.05"/>
<circle cx="221.1" cy="229.8" r="1.05"/>
</g>
</g>
<text x="142.65" y="177.75" font-size="9.05" fill="#1A1A1A" text-anchor="middle" stroke="#1A1A1A" stroke-width="0.12" textLength="103.4" lengthAdjust="spacingAndGlyphs">ROAR–Palabra (Random)</text>
<line x1="58.30" x2="58.30" y1="282.8" y2="285.55" stroke="#333333" stroke-width="1.1"/>
<text x="58.30" y="295.0" font-size="9.0" fill="#4D4D4D" text-anchor="middle" stroke="#4D4D4D" stroke-width="0.12">0</text>
<line x1="93.08" x2="93.08" y1="282.8" y2="285.55" stroke="#333333" stroke-width="1.1"/>
<text x="93.08" y="295.0" font-size="9.0" fill="#4D4D4D" text-anchor="middle" stroke="#4D4D4D" stroke-width="0.12">25</text>
<line x1="127.86" x2="127.86" y1="282.8" y2="285.55" stroke="#333333" stroke-width="1.1"/>
<text x="127.86" y="295.0" font-size="9.0" fill="#4D4D4D" text-anchor="middle" stroke="#4D4D4D" stroke-width="0.12">50</text>
<line x1="162.64" x2="162.64" y1="282.8" y2="285.55" stroke="#333333" stroke-width="1.1"/>
<text x="162.64" y="295.0" font-size="9.0" fill="#4D4D4D" text-anchor="middle" stroke="#4D4D4D" stroke-width="0.12">75</text>
<line x1="197.42" x2="197.42" y1="282.8" y2="285.55" stroke="#333333" stroke-width="1.1"/>
<text x="197.42" y="295.0" font-size="9.0" fill="#4D4D4D" text-anchor="middle" stroke="#4D4D4D" stroke-width="0.12">100</text>
<line x1="232.20" x2="232.20" y1="282.8" y2="285.55" stroke="#333333" stroke-width="1.1"/>
<text x="232.20" y="295.0" font-size="9.0" fill="#4D4D4D" text-anchor="middle" stroke="#4D4D4D" stroke-width="0.12">125</text>
<rect x="239.1" y="166.0" width="181.70000000000002" height="17.0" fill="#D9D9D9"/>
<rect x="239.1" y="183.0" width="181.70000000000002" height="99.8" fill="#EBEBEB"/>
<g clip-path="url(#c11)">
<line x1="262.99" x2="262.99" y1="183.0" y2="282.8" stroke="#FFFFFF" stroke-width="0.8"/>
<line x1="297.77" x2="297.77" y1="183.0" y2="282.8" stroke="#FFFFFF" stroke-width="0.8"/>
<line x1="332.55" x2="332.55" y1="183.0" y2="282.8" stroke="#FFFFFF" stroke-width="0.8"/>
<line x1="367.33" x2="367.33" y1="183.0" y2="282.8" stroke="#FFFFFF" stroke-width="0.8"/>
<line x1="402.11" x2="402.11" y1="183.0" y2="282.8" stroke="#FFFFFF" stroke-width="0.8"/>
<line x1="239.1" x2="420.8" y1="267.54" y2="267.54" stroke="#FFFFFF" stroke-width="0.8"/>
<line x1="239.1" x2="420.8" y1="244.71" y2="244.71" stroke="#FFFFFF" stroke-width="0.8"/>
<line x1="239.1" x2="420.8" y1="221.89" y2="221.89" stroke="#FFFFFF" stroke-width="0.8"/>
<line x1="239.1" x2="420.8" y1="199.06" y2="199.06" stroke="#FFFFFF" stroke-width="0.8"/>
<line x1="245.60" x2="245.60" y1="183.0" y2="282.8" stroke="#FFFFFF" stroke-width="1.42"/>
<line x1="280.38" x2="280.38" y1="183.0" y2="282.8" stroke="#FFFFFF" stroke-width="1.42"/>
<line x1="315.16" x2="315.16" y1="183.0" y2="282.8" stroke="#FFFFFF" stroke-width="1.42"/>
<line x1="349.94" x2="349.94" y1="183.0" y2="282.8" stroke="#FFFFFF" stroke-width="1.42"/>
<line x1="384.72" x2="384.72" y1="183.0" y2="282.8" stroke="#FFFFFF" stroke-width="1.42"/>
<line x1="419.50" x2="419.50" y1="183.0" y2="282.8" stroke="#FFFFFF" stroke-width="1.42"/>
<line x1="239.1" x2="420.8" y1="278.95" y2="278.95" stroke="#FFFFFF" stroke-width="1.42"/>
<line x1="239.1" x2="420.8" y1="256.12" y2="256.12" stroke="#FFFFFF" stroke-width="1.42"/>
<line x1="239.1" x2="420.8" y1="233.30" y2="233.30" stroke="#FFFFFF" stroke-width="1.42"/>
<line x1="239.1" x2="420.8" y1="210.47" y2="210.47" stroke="#FFFFFF" stroke-width="1.42"/>
<line x1="239.1" x2="420.8" y1="187.65" y2="187.65" stroke="#FFFFFF" stroke-width="1.42"/>
<path d="M246.70,272.20 C249.32,272.00 256.90,271.47 262.40,271.00 C267.90,270.53 273.92,269.92 279.70,269.40 C285.48,268.88 290.38,268.33 297.10,267.90 C303.82,267.47 313.48,267.23 320.00,266.80 C326.52,266.37 330.80,265.83 336.20,265.30 C341.60,264.77 347.00,264.20 352.40,263.60 C357.80,263.00 363.20,262.23 368.60,261.70 C374.00,261.17 382.10,260.62 384.80,260.40" fill="none" stroke="#E0675F" stroke-width="2.1" stroke-linecap="butt" stroke-linejoin="round"/>
<path d="M246.70,271.00 C249.32,270.50 256.90,268.93 262.40,268.00 C267.90,267.07 273.93,266.17 279.70,265.40 C285.47,264.63 290.65,264.10 297.00,263.40 C303.35,262.70 312.30,261.90 317.80,261.20 C323.30,260.50 325.65,260.00 330.00,259.20 C334.35,258.40 339.27,257.18 343.90,256.40 C348.53,255.62 353.17,254.90 357.80,254.50 C362.43,254.10 367.20,253.98 371.70,254.00 C376.20,254.02 382.62,254.50 384.80,254.60" fill="none" stroke="#45B4B8" stroke-width="2.1" stroke-linecap="butt" stroke-linejoin="round"/>
<g fill="#EE6A60" fill-opacity="0.5">
<circle cx="252.2" cy="269.6" r="1.05"/>
<circle cx="256.7" cy="269.6" r="1.05"/>
<circle cx="249.8" cy="274.1" r="1.05"/>
<circle cx="265.0" cy="274.4" r="1.05"/>
<circle cx="267.8" cy="275.5" r="1.05"/>
<circle cx="259.1" cy="273.1" r="1.05"/>
<circle cx="272.1" cy="264.6" r="1.05"/>
<circle cx="295.7" cy="260.4" r="1.05"/>
<circle cx="288.8" cy="264.6" r="1.05"/>
<circle cx="294.4" cy="264.6" r="1.05"/>
<circle cx="297.1" cy="264.6" r="1.05"/>
<circle cx="292.6" cy="266.7" r="1.05"/>
<circle cx="275.6" cy="272.2" r="1.05"/>
<circle cx="279.4" cy="274.0" r="1.05"/>
<circle cx="281.5" cy="272.9" r="1.05"/>
<circle cx="283.9" cy="274.0" r="1.05"/>
<circle cx="287.4" cy="271.5" r="1.05"/>
<circle cx="315.3" cy="258.9" r="1.05"/>
<circle cx="321.2" cy="261.7" r="1.05"/>
<circle cx="325.0" cy="263.4" r="1.05"/>
<circle cx="309.1" cy="264.8" r="1.05"/>
<circle cx="302.8" cy="267.2" r="1.05"/>
<circle cx="310.8" cy="268.6" r="1.05"/>
<circle cx="323.6" cy="267.2" r="1.05"/>
<circle cx="328.9" cy="264.4" r="1.05"/>
<circle cx="299.4" cy="269.3" r="1.05"/>
<circle cx="307.0" cy="270.0" r="1.05"/>
<circle cx="312.5" cy="274.1" r="1.05"/>
<circle cx="313.9" cy="272.4" r="1.05"/>
<circle cx="317.1" cy="272.4" r="1.05"/>
<circle cx="318.8" cy="269.3" r="1.05"/>
<circle cx="327.8" cy="271.0" r="1.05"/>
<circle cx="334.6" cy="260.5" r="1.05"/>
<circle cx="341.5" cy="262.2" r="1.05"/>
<circle cx="348.8" cy="260.5" r="1.05"/>
<circle cx="351.6" cy="262.2" r="1.05"/>
<circle cx="356.1" cy="262.2" r="1.05"/>
<circle cx="357.5" cy="261.5" r="1.05"/>
<circle cx="331.8" cy="270.9" r="1.05"/>
<circle cx="333.2" cy="269.5" r="1.05"/>
<circle cx="335.9" cy="270.9" r="1.05"/>
<circle cx="349.8" cy="269.5" r="1.05"/>
<circle cx="353.3" cy="267.0" r="1.05"/>
<circle cx="354.4" cy="268.1" r="1.05"/>
<circle cx="329.7" cy="264.6" r="1.05"/>
<circle cx="345.0" cy="265.6" r="1.05"/>
<circle cx="343.6" cy="263.2" r="1.05"/>
<circle cx="363.5" cy="254.1" r="1.05"/>
<circle cx="368.0" cy="254.1" r="1.05"/>
<circle cx="372.2" cy="256.2" r="1.05"/>
<circle cx="369.4" cy="257.9" r="1.05"/>
<circle cx="365.9" cy="259.3" r="1.05"/>
<circle cx="379.1" cy="259.3" r="1.05"/>
<circle cx="383.0" cy="259.3" r="1.05"/>
<circle cx="371.1" cy="265.5" r="1.05"/>
<circle cx="373.9" cy="265.5" r="1.05"/>
<circle cx="375.3" cy="263.8" r="1.05"/>
<circle cx="378.1" cy="263.5" r="1.05"/>
<circle cx="380.9" cy="265.5" r="1.05"/>
<circle cx="385.0" cy="263.8" r="1.05"/>
<circle cx="359.7" cy="268.0" r="1.05"/>
<circle cx="362.8" cy="268.3" r="1.05"/>
<circle cx="247.0" cy="272.1" r="1.05"/>
<circle cx="248.4" cy="267.2" r="1.05"/>
<circle cx="251.2" cy="271.0" r="1.05"/>
<circle cx="253.9" cy="273.5" r="1.05"/>
<circle cx="255.3" cy="269.4" r="1.05"/>
<circle cx="258.1" cy="271.2" r="1.05"/>
<circle cx="260.9" cy="272.8" r="1.05"/>
<circle cx="262.3" cy="272.6" r="1.05"/>
<circle cx="263.7" cy="273.6" r="1.05"/>
<circle cx="266.5" cy="267.6" r="1.05"/>
<circle cx="269.2" cy="269.7" r="1.05"/>
<circle cx="270.6" cy="269.6" r="1.05"/>
<circle cx="273.4" cy="271.1" r="1.05"/>
<circle cx="274.8" cy="271.8" r="1.05"/>
<circle cx="277.6" cy="264.8" r="1.05"/>
<circle cx="280.4" cy="271.3" r="1.05"/>
<circle cx="283.2" cy="266.5" r="1.05"/>
<circle cx="285.9" cy="270.1" r="1.05"/>
<circle cx="290.1" cy="265.8" r="1.05"/>
<circle cx="291.5" cy="268.7" r="1.05"/>
<circle cx="298.5" cy="270.0" r="1.05"/>
<circle cx="301.2" cy="267.4" r="1.05"/>
<circle cx="304.0" cy="267.9" r="1.05"/>
<circle cx="305.4" cy="268.9" r="1.05"/>
<circle cx="308.2" cy="267.6" r="1.05"/>
<circle cx="317.9" cy="266.7" r="1.05"/>
<circle cx="322.1" cy="269.4" r="1.05"/>
<circle cx="326.3" cy="268.1" r="1.05"/>
<circle cx="330.5" cy="265.3" r="1.05"/>
<circle cx="337.4" cy="270.1" r="1.05"/>
<circle cx="338.8" cy="263.0" r="1.05"/>
<circle cx="340.2" cy="266.5" r="1.05"/>
<circle cx="345.8" cy="263.8" r="1.05"/>
<circle cx="347.2" cy="264.4" r="1.05"/>
<circle cx="358.3" cy="264.2" r="1.05"/>
<circle cx="361.1" cy="263.0" r="1.05"/>
<circle cx="365.2" cy="263.2" r="1.05"/>
<circle cx="376.4" cy="258.3" r="1.05"/>
<circle cx="381.9" cy="257.9" r="1.05"/>
</g>
<g fill="#1AAEB3" fill-opacity="0.45">
<circle cx="252.5" cy="264.7" r="1.05"/>
<circle cx="253.9" cy="265.8" r="1.05"/>
<circle cx="251.2" cy="267.9" r="1.05"/>
<circle cx="259.5" cy="266.1" r="1.05"/>
<circle cx="266.8" cy="264.7" r="1.05"/>
<circle cx="248.0" cy="273.8" r="1.05"/>
<circle cx="255.3" cy="270.6" r="1.05"/>
<circle cx="261.2" cy="271.3" r="1.05"/>
<circle cx="265.4" cy="272.7" r="1.05"/>
<circle cx="274.9" cy="256.9" r="1.05"/>
<circle cx="276.3" cy="258.7" r="1.05"/>
<circle cx="272.1" cy="260.4" r="1.05"/>
<circle cx="273.9" cy="262.9" r="1.05"/>
<circle cx="280.5" cy="260.4" r="1.05"/>
<circle cx="279.4" cy="262.9" r="1.05"/>
<circle cx="288.8" cy="261.8" r="1.05"/>
<circle cx="285.0" cy="267.0" r="1.05"/>
<circle cx="287.4" cy="267.7" r="1.05"/>
<circle cx="293.0" cy="268.1" r="1.05"/>
<circle cx="291.9" cy="270.1" r="1.05"/>
<circle cx="294.7" cy="270.8" r="1.05"/>
<circle cx="296.8" cy="269.8" r="1.05"/>
<circle cx="299.7" cy="252.6" r="1.05"/>
<circle cx="309.4" cy="254.0" r="1.05"/>
<circle cx="308.4" cy="255.8" r="1.05"/>
<circle cx="326.4" cy="251.2" r="1.05"/>
<circle cx="304.9" cy="259.9" r="1.05"/>
<circle cx="306.6" cy="259.9" r="1.05"/>
<circle cx="301.4" cy="261.7" r="1.05"/>
<circle cx="320.9" cy="260.3" r="1.05"/>
<circle cx="327.5" cy="258.5" r="1.05"/>
<circle cx="316.4" cy="264.4" r="1.05"/>
<circle cx="311.9" cy="266.2" r="1.05"/>
<circle cx="319.1" cy="267.9" r="1.05"/>
<circle cx="322.6" cy="265.1" r="1.05"/>
<circle cx="330.7" cy="246.6" r="1.05"/>
<circle cx="341.5" cy="248.0" r="1.05"/>
<circle cx="344.6" cy="251.1" r="1.05"/>
<circle cx="343.2" cy="252.8" r="1.05"/>
<circle cx="349.8" cy="249.7" r="1.05"/>
<circle cx="354.4" cy="252.8" r="1.05"/>
<circle cx="356.8" cy="251.1" r="1.05"/>
<circle cx="351.6" cy="258.8" r="1.05"/>
<circle cx="339.1" cy="260.1" r="1.05"/>
<circle cx="337.7" cy="263.3" r="1.05"/>
<circle cx="334.9" cy="264.3" r="1.05"/>
<circle cx="347.4" cy="264.9" r="1.05"/>
<circle cx="353.0" cy="264.9" r="1.05"/>
<circle cx="367.0" cy="241.9" r="1.05"/>
<circle cx="365.2" cy="245.8" r="1.05"/>
<circle cx="368.0" cy="247.5" r="1.05"/>
<circle cx="359.7" cy="247.8" r="1.05"/>
<circle cx="381.9" cy="249.2" r="1.05"/>
<circle cx="362.8" cy="252.7" r="1.05"/>
<circle cx="370.8" cy="252.7" r="1.05"/>
<circle cx="377.8" cy="252.7" r="1.05"/>
<circle cx="380.5" cy="252.7" r="1.05"/>
<circle cx="369.4" cy="257.2" r="1.05"/>
<circle cx="375.0" cy="258.3" r="1.05"/>
<circle cx="384.7" cy="258.6" r="1.05"/>
<circle cx="372.2" cy="260.7" r="1.05"/>
<circle cx="361.1" cy="263.5" r="1.05"/>
<circle cx="383.3" cy="262.1" r="1.05"/>
<circle cx="247.0" cy="269.5" r="1.05"/>
<circle cx="249.8" cy="271.6" r="1.05"/>
<circle cx="256.7" cy="271.1" r="1.05"/>
<circle cx="258.1" cy="270.4" r="1.05"/>
<circle cx="262.3" cy="268.6" r="1.05"/>
<circle cx="263.7" cy="268.1" r="1.05"/>
<circle cx="267.9" cy="267.4" r="1.05"/>
<circle cx="269.2" cy="268.0" r="1.05"/>
<circle cx="270.6" cy="266.4" r="1.05"/>
<circle cx="277.6" cy="266.2" r="1.05"/>
<circle cx="281.8" cy="266.2" r="1.05"/>
<circle cx="283.2" cy="265.0" r="1.05"/>
<circle cx="285.9" cy="266.1" r="1.05"/>
<circle cx="290.1" cy="265.2" r="1.05"/>
<circle cx="295.7" cy="267.2" r="1.05"/>
<circle cx="298.5" cy="263.8" r="1.05"/>
<circle cx="302.6" cy="262.0" r="1.05"/>
<circle cx="304.0" cy="262.0" r="1.05"/>
<circle cx="311.0" cy="261.9" r="1.05"/>
<circle cx="313.8" cy="263.3" r="1.05"/>
<circle cx="315.2" cy="260.9" r="1.05"/>
<circle cx="317.9" cy="261.9" r="1.05"/>
<circle cx="323.5" cy="263.6" r="1.05"/>
<circle cx="324.9" cy="255.4" r="1.05"/>
<circle cx="329.1" cy="257.3" r="1.05"/>
<circle cx="331.9" cy="259.3" r="1.05"/>
<circle cx="333.2" cy="259.3" r="1.05"/>
<circle cx="336.0" cy="258.4" r="1.05"/>
<circle cx="340.2" cy="256.4" r="1.05"/>
<circle cx="345.8" cy="257.3" r="1.05"/>
<circle cx="348.6" cy="256.3" r="1.05"/>
<circle cx="355.5" cy="253.9" r="1.05"/>
<circle cx="358.3" cy="258.9" r="1.05"/>
<circle cx="363.9" cy="254.9" r="1.05"/>
<circle cx="373.6" cy="253.1" r="1.05"/>
<circle cx="376.4" cy="254.0" r="1.05"/>
<circle cx="379.2" cy="253.9" r="1.05"/>
</g>
</g>
<text x="329.95" y="177.75" font-size="9.05" fill="#1A1A1A" text-anchor="middle" stroke="#1A1A1A" stroke-width="0.12" textLength="94.8" lengthAdjust="spacingAndGlyphs">ROAR–Word (Adaptive)</text>
<line x1="245.60" x2="245.60" y1="282.8" y2="285.55" stroke="#333333" stroke-width="1.1"/>
<text x="245.60" y="295.0" font-size="9.0" fill="#4D4D4D" text-anchor="middle" stroke="#4D4D4D" stroke-width="0.12">0</text>
<line x1="280.38" x2="280.38" y1="282.8" y2="285.55" stroke="#333333" stroke-width="1.1"/>
<text x="280.38" y="295.0" font-size="9.0" fill="#4D4D4D" text-anchor="middle" stroke="#4D4D4D" stroke-width="0.12">25</text>
<line x1="315.16" x2="315.16" y1="282.8" y2="285.55" stroke="#333333" stroke-width="1.1"/>
<text x="315.16" y="295.0" font-size="9.0" fill="#4D4D4D" text-anchor="middle" stroke="#4D4D4D" stroke-width="0.12">50</text>
<line x1="349.94" x2="349.94" y1="282.8" y2="285.55" stroke="#333333" stroke-width="1.1"/>
<text x="349.94" y="295.0" font-size="9.0" fill="#4D4D4D" text-anchor="middle" stroke="#4D4D4D" stroke-width="0.12">75</text>
<line x1="384.72" x2="384.72" y1="282.8" y2="285.55" stroke="#333333" stroke-width="1.1"/>
<text x="384.72" y="295.0" font-size="9.0" fill="#4D4D4D" text-anchor="middle" stroke="#4D4D4D" stroke-width="0.12">100</text>
<line x1="419.50" x2="419.50" y1="282.8" y2="285.55" stroke="#333333" stroke-width="1.1"/>
<text x="419.50" y="295.0" font-size="9.0" fill="#4D4D4D" text-anchor="middle" stroke="#4D4D4D" stroke-width="0.12">125</text>
<line x1="49.05" x2="51.8" y1="278.95" y2="278.95" stroke="#333333" stroke-width="1.1"/>
<text x="46.2" y="282.15" font-size="9.0" fill="#4D4D4D" text-anchor="end" stroke="#4D4D4D" stroke-width="0.12">0.000</text>
<line x1="49.05" x2="51.8" y1="256.12" y2="256.12" stroke="#333333" stroke-width="1.1"/>
<text x="46.2" y="259.32" font-size="9.0" fill="#4D4D4D" text-anchor="end" stroke="#4D4D4D" stroke-width="0.12">0.025</text>
<line x1="49.05" x2="51.8" y1="233.30" y2="233.30" stroke="#333333" stroke-width="1.1"/>
<text x="46.2" y="236.50" font-size="9.0" fill="#4D4D4D" text-anchor="end" stroke="#4D4D4D" stroke-width="0.12">0.050</text>
<line x1="49.05" x2="51.8" y1="210.47" y2="210.47" stroke="#333333" stroke-width="1.1"/>
<text x="46.2" y="213.67" font-size="9.0" fill="#4D4D4D" text-anchor="end" stroke="#4D4D4D" stroke-width="0.12">0.075</text>
<line x1="49.05" x2="51.8" y1="187.65" y2="187.65" stroke="#333333" stroke-width="1.1"/>
<text x="46.2" y="190.85" font-size="9.0" fill="#4D4D4D" text-anchor="end" stroke="#4D4D4D" stroke-width="0.12">0.100</text>
<text x="236.1" y="307.6" font-size="10.9" fill="#000000" text-anchor="middle" stroke="#000" stroke-width="0.12">Number of test items</text>
<text x="0" y="0" font-size="11" fill="#000000" text-anchor="middle" stroke="#000" stroke-width="0.12" transform="translate(18.6,234.9) rotate(-90)">Rapid guess rate</text>
<text x="120.5" y="338.8" font-size="10" fill="#000000" stroke="#000" stroke-width="0.1" textLength="68.0" lengthAdjust="spacingAndGlyphs">Audio feedback</text>
<rect x="194.2" y="326.2" width="17.28" height="17.28" fill="#EBEBEB"/>
<line x1="195.89999999999998" x2="209.79999999999998" y1="334.9" y2="334.9" stroke="#E86A61" stroke-width="2.0"/>
<text x="217.1" y="338.8" font-size="10" fill="#000000" stroke="#000" stroke-width="0.1">Correct/Incorrect</text>
<rect x="297.1" y="326.2" width="17.28" height="17.28" fill="#EBEBEB"/>
<line x1="298.8" x2="312.70000000000005" y1="334.9" y2="334.9" stroke="#3DB6BB" stroke-width="2.0"/>
<text x="319.8" y="338.8" font-size="10" fill="#000000" stroke="#000" stroke-width="0.1">Neutral</text></svg></body></html>
